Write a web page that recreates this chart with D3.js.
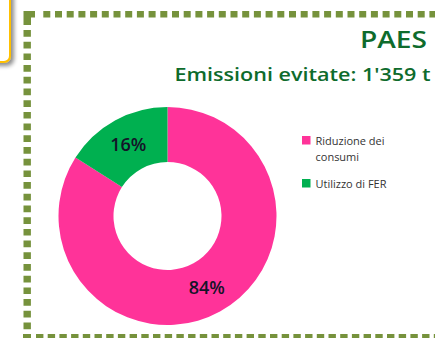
<!DOCTYPE html>
<html>
<head>
<meta charset="utf-8">
<script src="https://cdn.jsdelivr.net/npm/d3@7"></script>
<style>
  html, body { margin: 0; padding: 0; background: #fff; }
  svg { display: block; }
</style>
</head>
<body>
<svg id="chart" width="435" height="338"></svg>
<script>
// Chart data
const categories = ["Riduzione dei consumi", "Utilizzo di FER"];
const legendLines = [["Riduzione dei", "consumi"], ["Utilizzo di FER"]];
const shares = [84, 16];
const sliceColors = ["#FF3399", "#00B050"];
const titleText = "PAES";
const subtitleText = "Emissioni evitate: 1'359 t";

const W = 435, H = 338;
const svg = d3.select("#chart");
const font = "'Open Sans', Lato, sans-serif";
const borderColor = "#76923C";

// Yellow callout box peeking in at the top-left, with soft shadow
const defs = svg.append("defs");
const sh = defs.append("filter").attr("id", "shadow").attr("x", "-50%").attr("y", "-50%").attr("width", "200%").attr("height", "200%");
sh.append("feGaussianBlur").attr("in", "SourceAlpha").attr("stdDeviation", 2.2);
sh.append("feOffset").attr("dx", 3).attr("dy", 3).attr("result", "o");
sh.append("feComponentTransfer").append("feFuncA").attr("type", "linear").attr("slope", 0.45);
const m = sh.append("feMerge");
m.append("feMergeNode");
m.append("feMergeNode").attr("in", "SourceGraphic");

svg.append("rect")
  .attr("x", -30).attr("y", -20).attr("width", 40).attr("height", 82)
  .attr("rx", 6).attr("fill", "#fff")
  .attr("stroke", "#FFC000").attr("stroke-width", 2)
  .attr("filter", "url(#shadow)");

// Dashed frame (square dots)
const frame = svg.append("g").attr("fill", "none").attr("stroke", borderColor);
frame.append("line").attr("x1", 43.3).attr("x2", W + 10).attr("y1", 14.2).attr("y2", 14.2)
  .attr("stroke-width", 6.6).attr("stroke-dasharray", "7 4.7");
frame.append("line").attr("x1", 27.2).attr("x2", 27.2).attr("y1", 30).attr("y2", 330)
  .attr("stroke-width", 7.4).attr("stroke-dasharray", "6.7 5");
frame.append("line").attr("x1", 36).attr("x2", W + 10).attr("y1", 337.3).attr("y2", 337.3)
  .attr("stroke-width", 6.6).attr("stroke-dasharray", "7.4 4.3");
// corner pieces
svg.append("path")
  .attr("d", "M23.5,11 H35 V17.5 H31 V25 H23.5 Z")
  .attr("fill", borderColor);
svg.append("rect").attr("x", 23).attr("y", 334).attr("width", 8).attr("height", 6).attr("fill", borderColor);

// Titles
svg.append("text")
  .attr("x", 360).attr("y", 48)
  .attr("font-family", font).attr("font-weight", 600).attr("font-size", 23.5)
  .attr("textLength", 67).attr("lengthAdjust", "spacingAndGlyphs")
  .attr("fill", "#0E6B2C")
  .text(titleText);
svg.append("text")
  .attr("x", 174.5).attr("y", 80.7)
  .attr("font-family", font).attr("font-weight", 600).attr("font-size", 18)
  .attr("textLength", 256).attr("lengthAdjust", "spacingAndGlyphs")
  .attr("fill", "#0E6B2C")
  .text(subtitleText);

// Donut
const cx = 167.5, cy = 216, rOuter = 109, rInner = 54;
const pie = d3.pie().sort(null).value(d => d)(shares);
const arc = d3.arc().innerRadius(rInner).outerRadius(rOuter);
const g = svg.append("g").attr("transform", `translate(${cx},${cy})`);
g.selectAll("path").data(pie).join("path")
  .attr("d", arc)
  .attr("fill", (d, i) => sliceColors[i]);

g.selectAll("text").data(pie).join("text")
  .attr("transform", d => `translate(${arc.centroid(d)})`)
  .attr("text-anchor", "middle")
  .attr("dy", "0.36em")
  .attr("font-family", font).attr("font-weight", 600).attr("font-size", 18)
  .attr("fill", "#141428")
  .text(d => d.data + "%");

// Legend
const legend = svg.append("g").attr("font-family", font).attr("font-size", 11).attr("fill", "#333");
const legendY = [136, 179];
categories.forEach((c, i) => {
  const y = legendY[i];
  legend.append("rect").attr("x", 302).attr("y", y).attr("width", 8.5).attr("height", 8.5).attr("fill", sliceColors[i]);
  legendLines[i].forEach((ln, j) => {
    legend.append("text").attr("x", 315.5).attr("y", y + 8.5 + j * 16.5).text(ln);
  });
});
</script>
</body>
</html>
